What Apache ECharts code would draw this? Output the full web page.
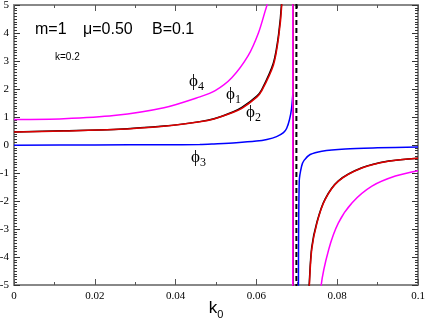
<!DOCTYPE html>
<html>
<head>
<meta charset="utf-8">
<script src="https://cdn.jsdelivr.net/npm/echarts@6/dist/echarts.min.js"></script>
<style>
  html, body { margin: 0; padding: 0; background: #fff; }
  #chart { width: 425px; height: 322px; }
</style>
</head>
<body>
<div id="chart"></div>
<script>
// x positions (k0) and values, one pair of arrays per curve
// (the repeated k0 marks the jump across the pole)
var kPhi1 = [0, 0.0123, 0.0247, 0.0371, 0.046, 0.0495, 0.0543, 0.0564, 0.0601, 0.0613, 0.0642, 0.0655, 0.0663, 0.0675, 0.0685, 0.069, 0.069, 0.0715, 0.0725, 0.0731, 0.0737, 0.075, 0.077, 0.0803, 0.0861, 0.0927, 0.1]
var phi1 = [0.465, 0.505, 0.555, 0.675, 0.835, 0.94, 1.19, 1.34, 1.75, 1.97, 2.93, 3.96, 5.25, 9.5, 26, 100, -100, -13.5, -6.8, -4.9, -3.65, -2.74, -1.93, -1.28, -0.815, -0.575, -0.47]

var kPhi2 = [0, 0.0123, 0.0247, 0.0371, 0.046, 0.0495, 0.0543, 0.0564, 0.0601, 0.0613, 0.0642, 0.0655, 0.0663, 0.0675, 0.0685, 0.069, 0.069, 0.0715, 0.0725, 0.0731, 0.0737, 0.075, 0.077, 0.0803, 0.0861, 0.0927, 0.1]
var phi2 = [0.46, 0.5, 0.55, 0.67, 0.83, 0.93, 1.17, 1.31, 1.71, 1.93, 2.85, 3.85, 5.05, 9, 25, 100, -100, -14, -7, -5.04, -3.73, -2.78, -1.95, -1.29, -0.82, -0.58, -0.47]

var kPhi3 = [0, 0.02, 0.0371, 0.046, 0.0495, 0.055, 0.06, 0.0626, 0.065, 0.0667, 0.0675, 0.0682, 0.0687, 0.069, 0.069, 0.0702, 0.0704, 0.0706, 0.0712, 0.0718, 0.0733, 0.0762, 0.082, 0.09, 0.1]
var phi3 = [-0.01, 0.0, 0.01, 0.02, 0.04, 0.08, 0.14, 0.2, 0.3, 0.44, 0.6, 0.91, 1.3, 1.8, -100, -20, -5.5, -1.3, -0.75, -0.55, -0.34, -0.22, -0.14, -0.1, -0.07]

var kPhi4 = [0, 0.0123, 0.0247, 0.0371, 0.046, 0.0498, 0.0539, 0.058, 0.0605, 0.0622, 0.0627, 0.064, 0.066, 0.068, 0.069, 0.069, 0.0715, 0.074, 0.076, 0.0779, 0.0803, 0.0837, 0.0886, 0.0944, 0.1]
var phi4 = [0.91, 0.94, 1.05, 1.33, 1.72, 1.94, 2.40, 3.2, 4.0, 4.8, 5.05, 6.5, 10, 25, 100, -100, -20, -8.5, -5.04, -3.73, -2.78, -2.06, -1.47, -1.11, -0.92]

// dashed vertical line (pole)
var kPole = [0.0699, 0.0699]
var pole = [-6, 6]

function pairs(xs, ys) {
  return xs.map(function (x, i) { return [x, ys[i]] })
}

function lineSeries(data, color, width, smooth, dash) {
  return {
    type: 'line',
    data: data,
    showSymbol: false,
    symbol: 'none',
    smooth: smooth,
    lineStyle: { color: color, width: width, type: dash || 'solid' },
    silent: true
  }
}

// one curve -> left branch, jump, right branch (smoothed separately)
function curve(xs, ys, color) {
  var pts = pairs(xs, ys)
  var j = 1
  while (j < xs.length && xs[j] !== xs[j - 1]) j++
  return [
    lineSeries(pts.slice(0, j), color, 1.5, 0.3),
    lineSeries(pts.slice(j - 1, j + 1), color, 1.5, false),
    lineSeries(pts.slice(j), color, 1.5, 0.3)
  ]
}

var axisCol = '#888'
var tickFont = { color: '#000', fontFamily: 'Liberation Serif', fontSize: 11 }

function xAx(pos, labels) {
  return {
    type: 'value', position: pos, min: 0, max: 0.1, interval: 0.02,
    axisLine: { show: true, onZero: false, lineStyle: { color: axisCol, width: 2 } },
    axisTick: { show: true, inside: true, length: 6, lineStyle: { color: '#555' } },
    minorTick: { show: true, splitNumber: 2, length: 3, lineStyle: { color: '#555' } },
    splitLine: { show: false },
    axisLabel: Object.assign({ show: labels, margin: 6 }, tickFont)
  }
}

function yAx(pos, labels) {
  return {
    type: 'value', position: pos, min: -5, max: 5, interval: 1,
    axisLine: { show: true, onZero: false, lineStyle: { color: axisCol, width: 2 } },
    axisTick: { show: true, inside: true, length: 6, lineStyle: { color: '#333' } },
    minorTick: { show: true, splitNumber: 10, length: 3, lineStyle: { color: '#333' } },
    splitLine: { show: false },
    axisLabel: Object.assign({ show: labels, margin: 5 }, tickFont)
  }
}

var bottomX = xAx('bottom', true)
bottomX.name = '{k|k}{s|0}'
bottomX.nameLocation = 'middle'
bottomX.nameGap = 12
bottomX.nameMoveOverlap = false
bottomX.nameTextStyle = {
  rich: {
    k: { fontFamily: 'Liberation Sans', fontSize: 17, color: '#000' },
    s: { fontFamily: 'Liberation Sans', fontSize: 11, color: '#000', padding: [12, 0, 0, 0] }
  }
}

var phiRich = function (color) {
  return {
    p: { fontFamily: 'Liberation Serif', fontSize: 17, color: color },
    s: { fontFamily: 'Liberation Serif', fontSize: 12, color: color, padding: [10, 0, 0, 0] }
  }
}

var series = [].concat(
  curve(kPhi3, phi3, '#0000ff'),
  curve(kPhi1, phi1, '#000000'),
  curve(kPhi2, phi2, '#dd0000'),
  curve(kPhi4, phi4, '#ff00ff'),
  [lineSeries(pairs(kPole, pole), '#000', 2, false, [5, 3])]
)

var chart = echarts.init(document.getElementById('chart'), null, { renderer: 'canvas' })
chart.setOption({
  backgroundColor: '#fff',
  animation: false,
  grid: { left: 14, right: 7, top: 5, bottom: 37, outerBoundsMode: 'none', containLabel: false },
  xAxis: [bottomX, xAx('top', false)],
  yAxis: [yAx('left', true), yAx('right', false)],
  series: series,
  graphic: [
    { type: 'text', left: 35, top: 22, style: { text: 'm=1', font: '16px "Liberation Sans"', fill: '#000' } },
    { type: 'text', left: 83, top: 22, style: { text: 'μ=0.50', font: '16px "Liberation Sans"', fill: '#000' } },
    { type: 'text', left: 152, top: 22, style: { text: 'B=0.1', font: '16px "Liberation Sans"', fill: '#000' } },
    { type: 'text', left: 55, top: 52, style: { text: 'k=0.2', font: '10px "Liberation Sans"', fill: '#000' } },
    { type: 'text', left: 189, top: 73, style: { text: '{p|ϕ}{s|4}', rich: phiRich('#ff00ff') } },
    { type: 'text', left: 226, top: 86, style: { text: '{p|ϕ}{s|1}', rich: phiRich('#000000') } },
    { type: 'text', left: 246, top: 104, style: { text: '{p|ϕ}{s|2}', rich: phiRich('#ff0000') } },
    { type: 'text', left: 191, top: 149, style: { text: '{p|ϕ}{s|3}', rich: phiRich('#0000ff') } }
  ]
})
</script>
</body>
</html>
